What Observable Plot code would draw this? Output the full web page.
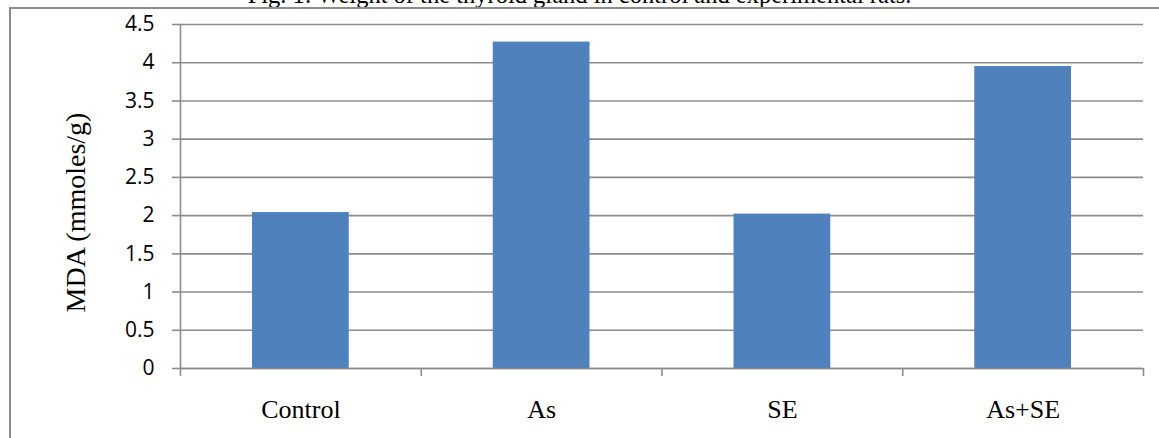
<!DOCTYPE html>
<html>
<head>
<meta charset="utf-8">
<script src="https://cdn.jsdelivr.net/npm/d3@7"></script>
<script src="https://cdn.jsdelivr.net/npm/@observablehq/plot@0.6"></script>
<style>
  html, body { margin: 0; padding: 0; background: #fff; }
  #wrap { position: relative; width: 1159px; height: 438px; overflow: hidden; background: #fff; }
  #title { position: absolute; left: 0; width: 1159px; top: -17px; text-align: center;
           font-family: "Liberation Serif", "Times New Roman", serif; font-size: 24.5px; line-height: 24px; color: #000; white-space: nowrap; }
  #frame { position: absolute; left: 9px; top: 7px; width: 1300px; height: 600px;
           border-left: 2px solid #8c8c8c; border-top: 2px solid #8c8c8c; pointer-events: none; }
  #chart { position: absolute; left: 0; top: 0; }
</style>
</head>
<body>
<div id="wrap">
  <div id="chart"></div>
  <div id="title">Fig. 1: Weight of the thyroid gland in control and experimental rats.</div>
  <div id="frame"></div>
</div>
<script>
const categories = ["Control", "As", "SE", "As+SE"];
const mdaValues = [2.04, 4.27, 2.02, 3.95];
const yTicks = [0, 0.5, 1, 1.5, 2, 2.5, 3, 3.5, 4, 4.5];
const yLabel = "MDA (mmoles/g)";

const data = categories.map((c, i) => ({c, i, v: mdaValues[i]}));
const bounds = d3.range(categories.length + 1);

const gray = "#8c8c8c";
const serif = "Liberation Serif, Times New Roman, serif";
const sans = "Open Sans, Liberation Sans, sans-serif";

const chart = Plot.plot({
  width: 1159,
  height: 438,
  marginLeft: 180,
  marginRight: 16,
  marginTop: 24,
  marginBottom: 70,
  style: {background: "transparent"},
  x: {domain: [0, categories.length], axis: null, label: null},
  y: {domain: [0, 4.5], axis: null, label: null},
  marks: [
    Plot.gridY(yTicks, {stroke: gray, strokeOpacity: 1, strokeWidth: 1.6}),
    Plot.rectY(data, {x1: "i", x2: d => d.i + 1, y: "v", insetLeft: 72, insetRight: 72, fill: "#4F81BD"}),
    Plot.ruleY([0], {stroke: gray, strokeWidth: 1.6}),
    Plot.ruleX([0], {stroke: gray, strokeWidth: 1.6}),
    Plot.axisY(yTicks, {
      label: null, tickSize: 8, tickPadding: 18, stroke: gray, strokeWidth: 1.6,
      fontSize: 21, fontFamily: sans, fill: "#000", tickFormat: d => String(d)
    }),
    Plot.axisX(bounds, {
      label: null, anchor: "bottom", tickSize: 8, stroke: gray, strokeWidth: 1.6, tickFormat: () => ""
    }),
    Plot.text(data, {
      x: d => d.i + 0.5, text: "c", frameAnchor: "bottom", lineAnchor: "bottom", dy: 49,
      fontSize: 26, fontFamily: serif, fill: "#000"
    }),
    Plot.text([yLabel], {
      text: d => d, frameAnchor: "left", textAnchor: "middle", lineAnchor: "middle",
      rotate: -90, dx: -104, dy: 16,
      fontSize: 28, fontFamily: serif, fill: "#000"
    })
  ]
});
document.getElementById("chart").appendChild(chart);
</script>
</body>
</html>
